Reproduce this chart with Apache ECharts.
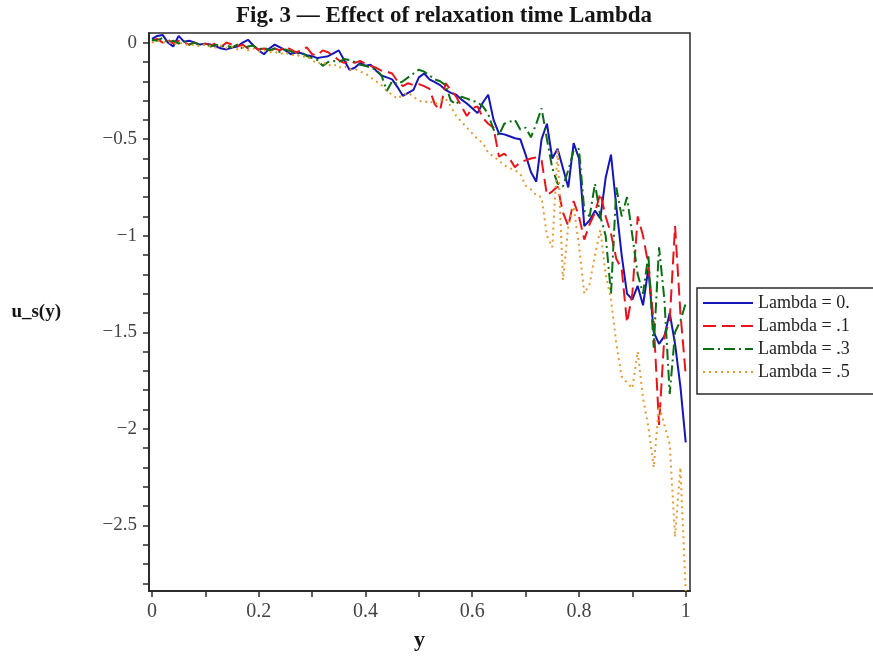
<!DOCTYPE html>
<html>
<head>
<meta charset="utf-8">
<script src="https://cdn.jsdelivr.net/npm/echarts@6/dist/echarts.min.js"></script>
<style>
  html, body { margin: 0; padding: 0; background: #fff; }
  #chart { width: 873px; height: 658px; }
</style>
</head>
<body>
<div id="chart"></div>
<script>
// sample positions y (0 .. 1, step 0.01)
const yPos = [
  0, 0.01, 0.02, 0.03, 0.04, 0.05, 0.06, 0.07, 0.08, 0.09,
  0.1, 0.11, 0.12, 0.13, 0.14, 0.15, 0.16, 0.17, 0.18, 0.19,
  0.2, 0.21, 0.22, 0.23, 0.24, 0.25, 0.26, 0.27, 0.28, 0.29,
  0.3, 0.31, 0.32, 0.33, 0.34, 0.35, 0.36, 0.37, 0.38, 0.39,
  0.4, 0.41, 0.42, 0.43, 0.44, 0.45, 0.46, 0.47, 0.48, 0.49,
  0.5, 0.51, 0.52, 0.53, 0.54, 0.55, 0.56, 0.57, 0.58, 0.59,
  0.6, 0.61, 0.62, 0.63, 0.64, 0.65, 0.66, 0.67, 0.68, 0.69,
  0.7, 0.71, 0.72, 0.73, 0.74, 0.75, 0.76, 0.77, 0.78, 0.79,
  0.8, 0.81, 0.82, 0.83, 0.84, 0.85, 0.86, 0.87, 0.88, 0.89,
  0.9, 0.91, 0.92, 0.93, 0.94, 0.95, 0.96, 0.97, 0.98, 0.99,
  1
];

// u_s(y), Lambda = 0
const lambda0 = [
  0.02, 0.035, 0.04, 0.0, -0.02, 0.035, 0.005, 0.01, 0.0, -0.01,
  -0.005, -0.01, -0.02, -0.03, -0.035, -0.025, -0.02, 0.0, 0.015, -0.015,
  -0.04, -0.06, -0.03, -0.01, -0.025, -0.04, -0.06, -0.05, -0.055, -0.065,
  -0.07, -0.08, -0.075, -0.07, -0.055, -0.04, -0.09, -0.14, -0.13, -0.105,
  -0.12, -0.115, -0.145, -0.17, -0.18, -0.19, -0.23, -0.275, -0.26, -0.245,
  -0.18, -0.16, -0.19, -0.205, -0.22, -0.245, -0.26, -0.27, -0.295, -0.315,
  -0.34, -0.365, -0.31, -0.27, -0.4, -0.47, -0.475, -0.485, -0.495, -0.5,
  -0.58, -0.67, -0.72, -0.5, -0.42, -0.6, -0.55, -0.65, -0.75, -0.52,
  -0.6, -0.95, -0.92, -0.87, -0.91, -0.7, -0.58, -0.85, -1.1, -1.3,
  -1.33, -1.26, -1.36, -1.17, -1.5, -1.56, -1.52, -1.4, -1.56, -1.78,
  -2.07
];

// Lambda = .1
const lambda1 = [
  0.01, 0.02, 0.0, 0.015, -0.005, 0.01, 0.0, -0.01, 0.0, -0.01,
  -0.005, -0.015, -0.002, -0.02, 0.0, -0.01, -0.02, -0.01, -0.03, -0.02,
  -0.035, -0.03, -0.045, -0.03, -0.04, -0.02, -0.035, -0.05, -0.04, -0.025,
  -0.06, -0.065, -0.04, -0.05, -0.07, -0.09, -0.105, -0.095, -0.105, -0.095,
  -0.11, -0.12, -0.13, -0.145, -0.15, -0.16, -0.2, -0.225, -0.21, -0.22,
  -0.215, -0.225, -0.24, -0.32, -0.35, -0.21, -0.245, -0.28, -0.33, -0.38,
  -0.34, -0.33, -0.39, -0.42, -0.44, -0.59, -0.575, -0.6, -0.645, -0.62,
  -0.61, -0.6, -0.595, -0.61, -0.79, -0.77, -0.745, -0.88, -0.95, -0.82,
  -0.9, -1.02, -0.94, -0.88, -0.78, -0.9, -0.99, -1.12, -1.17, -1.45,
  -1.3, -0.9, -1.0, -1.15, -1.45, -1.98, -1.52, -1.44, -0.95, -1.4,
  -1.72
];

// Lambda = .3
const lambda3 = [
  0.015, 0.01, 0.025, 0.0, 0.01, -0.005, 0.007, -0.01, 0.0, -0.015,
  -0.005, -0.02, -0.01, -0.02, -0.015, -0.025, -0.01, -0.03, -0.02, -0.015,
  -0.035, -0.025, -0.04, -0.03, -0.05, -0.035, -0.045, -0.06, -0.05, -0.07,
  -0.08, -0.09, -0.12, -0.1, -0.095, -0.1, -0.085, -0.09, -0.1, -0.115,
  -0.12, -0.13, -0.14, -0.17, -0.25, -0.2, -0.215, -0.2, -0.18, -0.16,
  -0.14, -0.15, -0.17, -0.19, -0.2, -0.22, -0.3, -0.32, -0.28, -0.29,
  -0.3, -0.31, -0.33, -0.37, -0.45, -0.48, -0.42, -0.41, -0.4, -0.45,
  -0.44, -0.49, -0.42, -0.34, -0.5, -0.65, -0.73, -0.745, -0.66, -0.56,
  -0.55, -0.87, -0.9, -0.73, -0.9, -1.0, -1.3, -0.75, -0.9, -0.8,
  -1.0, -1.2, -1.3, -1.1, -1.58, -1.06, -1.33, -1.82, -1.5, -1.44,
  -1.35
];

// Lambda = .5
const lambda5 = [
  0.0, 0.01, 0.0, 0.005, -0.01, 0.0, -0.005, -0.015, -0.01, -0.02,
  -0.01, -0.02, -0.025, -0.015, -0.03, -0.02, -0.035, -0.025, -0.04, -0.03,
  -0.045, -0.04, -0.05, -0.045, -0.06, -0.05, -0.065, -0.06, -0.075, -0.07,
  -0.09, -0.11, -0.1, -0.12, -0.11, -0.13, -0.12, -0.14, -0.135, -0.15,
  -0.16, -0.18, -0.2, -0.22, -0.25, -0.27, -0.29, -0.27, -0.26, -0.28,
  -0.3, -0.31, -0.3, -0.32, -0.3, -0.29, -0.33, -0.38, -0.41, -0.44,
  -0.47, -0.5, -0.52, -0.57, -0.59, -0.61, -0.635, -0.65, -0.66, -0.68,
  -0.74, -0.76, -0.79, -0.8, -1.0, -1.06, -0.55, -1.23, -0.95, -0.85,
  -1.05, -1.3, -1.25, -1.1, -0.97, -1.2, -1.33, -1.56, -1.73, -1.76,
  -1.79, -1.6, -1.84, -1.99, -2.2, -1.88, -1.98, -2.08, -2.56, -2.2,
  -2.84
];

const seriesNames = ["Lambda = 0.", "Lambda = .1", "Lambda = .3", "Lambda = .5"];

const xLabelValues = [0, 0.2, 0.4, 0.6, 0.8, 1];
const xTickValues = [0, 0.1, 0.2, 0.3, 0.4, 0.5, 0.6, 0.7, 0.8, 0.9, 1];
const yLabelValues = [0, -0.5, -1, -1.5, -2, -2.5];
const yTickValues = [
  0, -0.1, -0.2, -0.3, -0.4, -0.5, -0.6, -0.7, -0.8, -0.9, -1,
  -1.1, -1.2, -1.3, -1.4, -1.5, -1.6, -1.7, -1.8, -1.9, -2,
  -2.1, -2.2, -2.3, -2.4, -2.5, -2.6, -2.7, -2.8
];

const SERIF = "'Liberation Serif', 'DejaVu Serif', serif";
const AXIS_COLOR = "#2b2b2b";

const pairs = (vals) => vals.map((v, i) => [yPos[i], v]);
const fmtNum = (v) => String(Math.round(v * 10) / 10).replace("-", "\u2212");

const chart = echarts.init(document.getElementById("chart"), null, { renderer: "canvas" });

const styles = [
  { color: "#1515b8", type: "solid" },
  { color: "#e8141c", type: [13, 6] },
  { color: "#0b6e12", type: [11, 4, 2, 4] },
  { color: "#e39b35", type: [2, 4] },
];
const data = [lambda0, lambda1, lambda3, lambda5];

chart.setOption({
  animation: false,
  backgroundColor: "#fff",
  title: {
    text: "Fig. 3 \u2014 Effect of relaxation time Lambda",
    left: 236,
    top: 5,
    padding: 0,
    textStyle: { fontFamily: SERIF, fontWeight: "bold", fontSize: 23, color: "#151515" },
  },
  grid: {
    left: 149, right: 183, top: 33, bottom: 67,
    show: true, borderColor: AXIS_COLOR, borderWidth: 1.5,
  },
  legend: {
    orient: "vertical",
    left: 697,
    top: 288,
    padding: [6, 60, 13, 5],
    itemWidth: 50,
    itemHeight: 14,
    itemGap: 5,
    borderColor: AXIS_COLOR,
    borderWidth: 1.5,
    itemStyle: { opacity: 0 },
    data: seriesNames,
    textStyle: { fontFamily: SERIF, fontSize: 18, lineHeight: 18, color: "#222" },
  },
  xAxis: {
    type: "value",
    min: -0.0055,
    max: 1.008,
    name: "y",
    nameLocation: "middle",
    nameGap: 38,
    nameTextStyle: { fontFamily: SERIF, fontWeight: "bold", fontSize: 22, color: "#151515" },
    splitLine: { show: false },
    axisLine: { show: true, onZero: false, lineStyle: { color: AXIS_COLOR, width: 2 } },
    axisTick: { show: true, length: 6, customValues: xTickValues, lineStyle: { color: AXIS_COLOR, width: 1.5 } },
    axisLabel: {
      customValues: xLabelValues,
      formatter: fmtNum,
      margin: 11,
      fontFamily: SERIF, fontSize: 20, color: "#444",
    },
  },
  yAxis: {
    type: "value",
    min: -2.84,
    max: 0.05,
    name: "u_s(y)",
    nameLocation: "middle",
    nameRotate: 0,
    nameGap: 88,
    nameTextStyle: { fontFamily: SERIF, fontWeight: "bold", fontSize: 19, color: "#151515", padding: [0, 0, 40, 0] },
    splitLine: { show: false },
    axisLine: { show: true, onZero: false, lineStyle: { color: AXIS_COLOR, width: 2 } },
    axisTick: { show: true, length: 6, customValues: yTickValues, lineStyle: { color: AXIS_COLOR, width: 1.5 } },
    axisLabel: {
      customValues: yLabelValues,
      formatter: fmtNum,
      margin: 12,
      fontFamily: SERIF, fontSize: 19, color: "#444",
    },
  },
  series: data.map((vals, i) => ({
    name: seriesNames[i],
    type: "line",
    data: pairs(vals),
    symbol: "none",
    smooth: false,
    clip: true,
    color: styles[i].color,
    lineStyle: { color: styles[i].color, width: 2, type: styles[i].type, cap: "butt" },
  })),
});
</script>
</body>
</html>
